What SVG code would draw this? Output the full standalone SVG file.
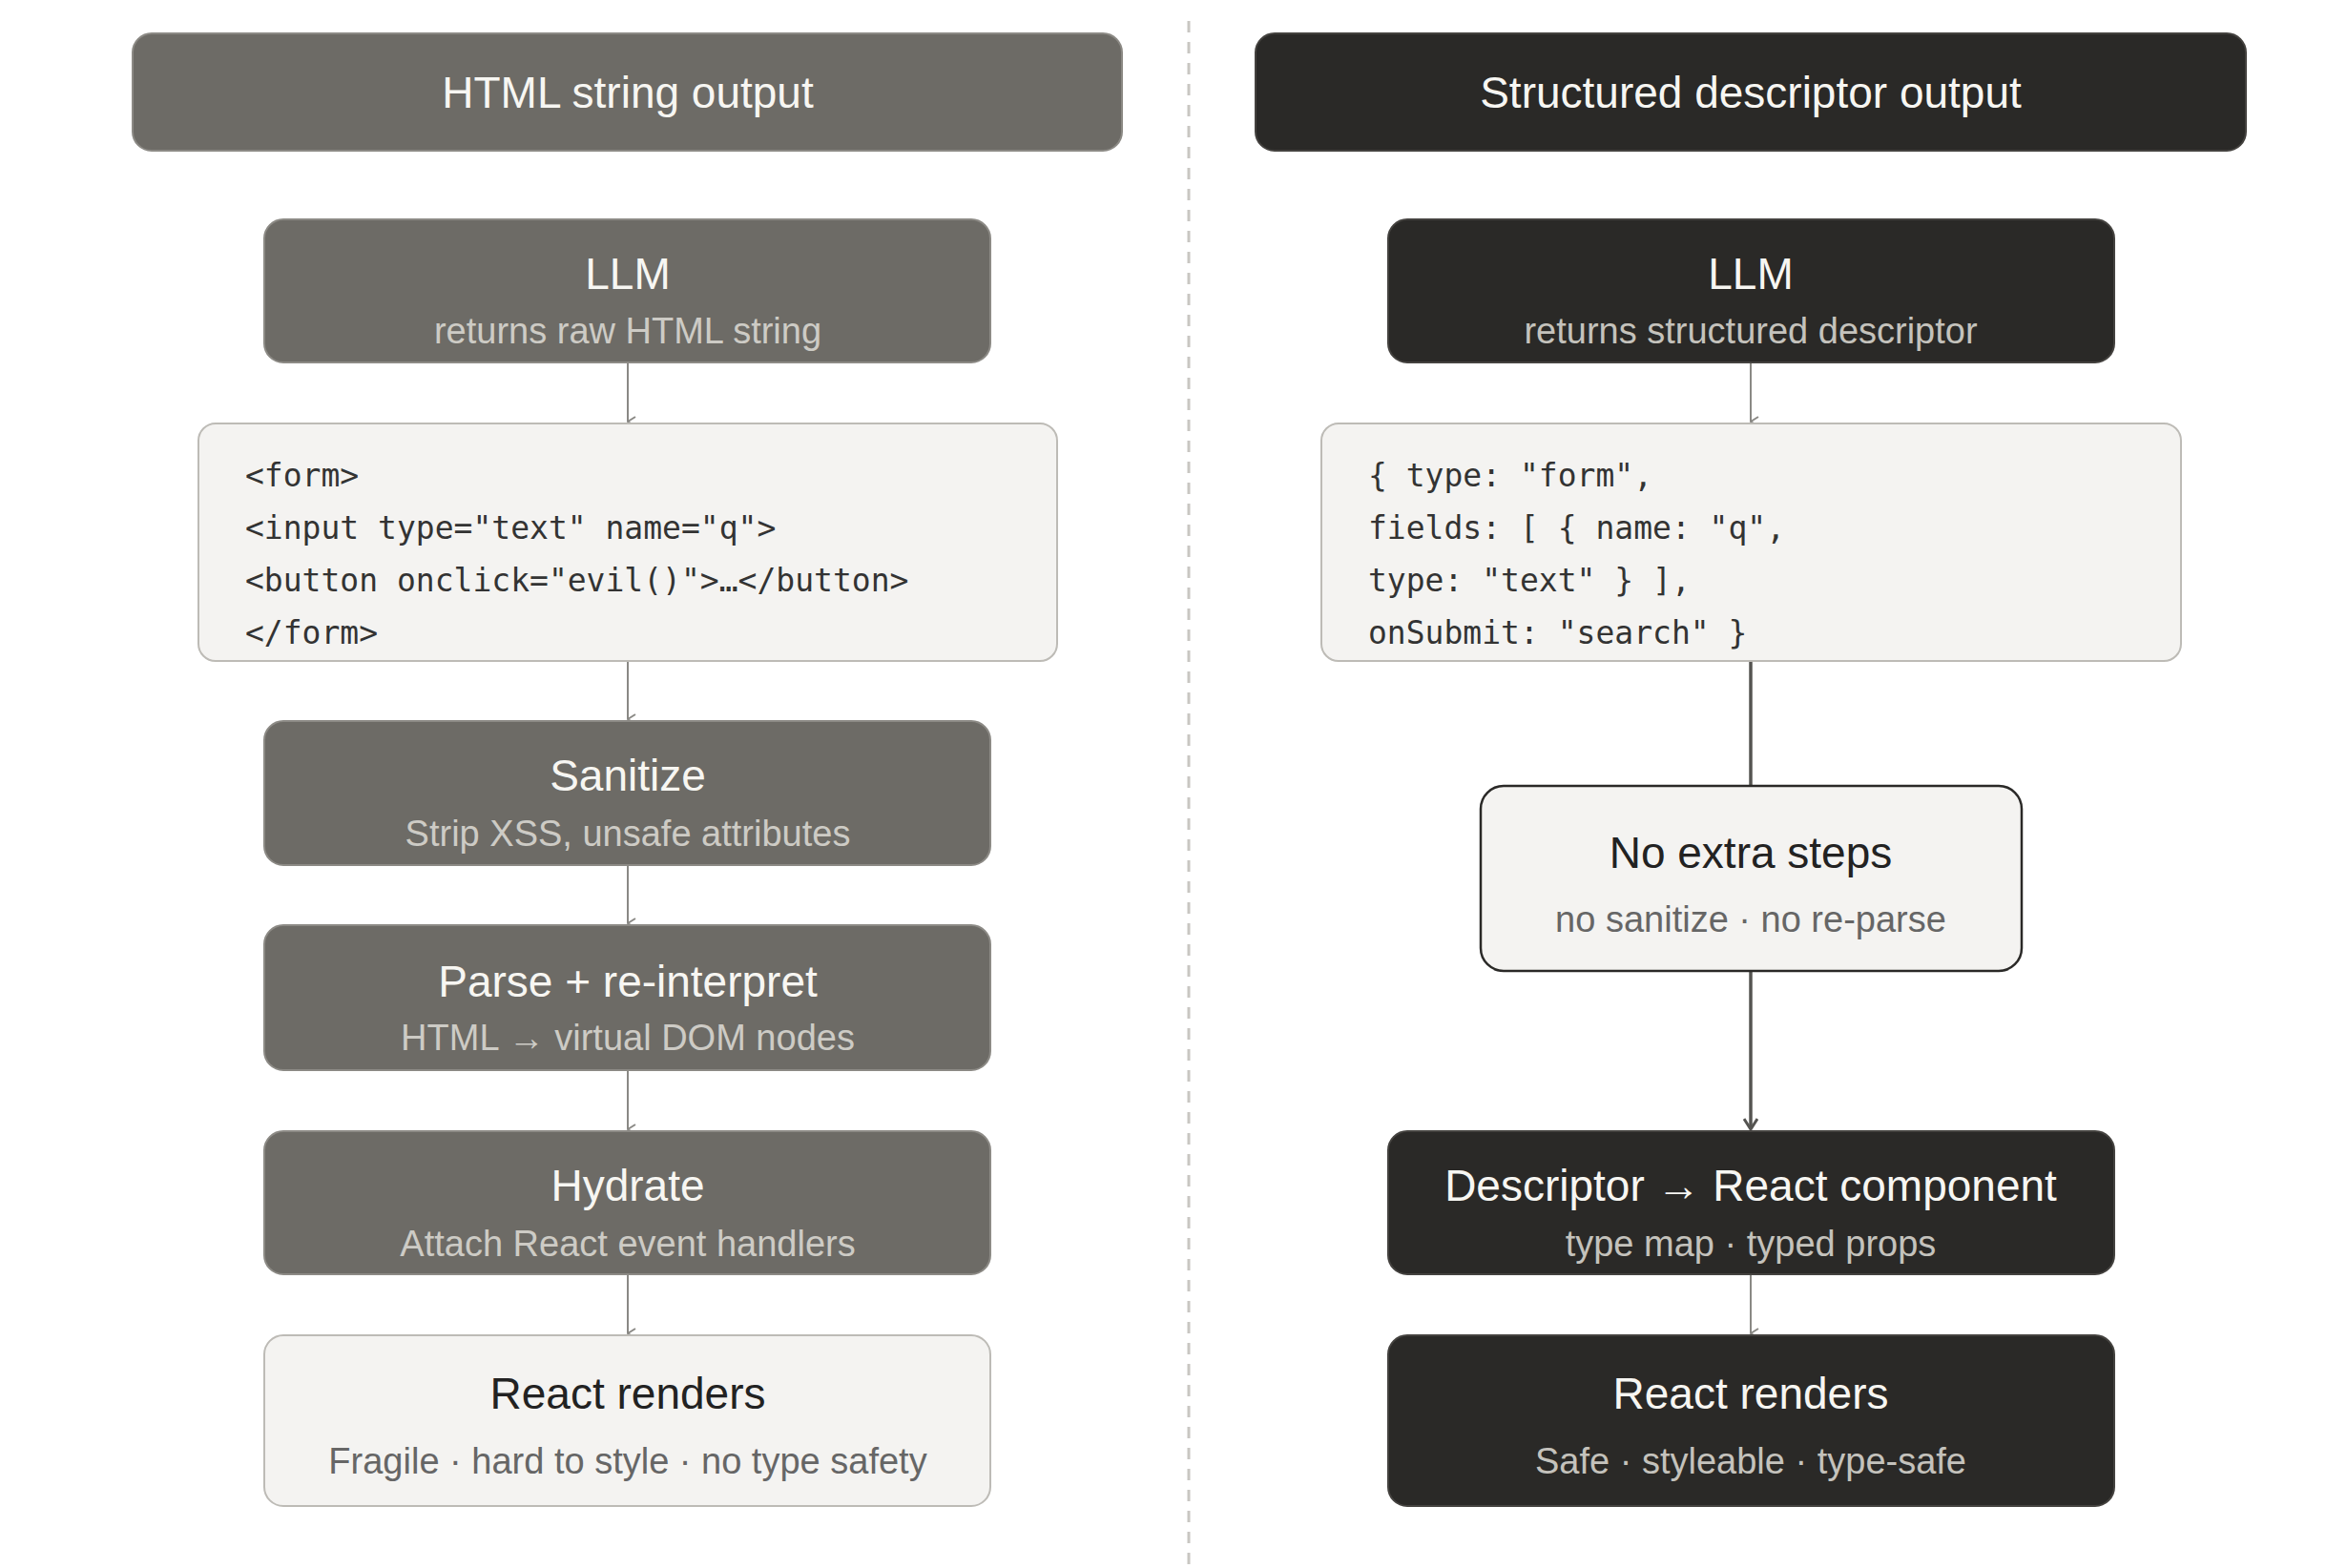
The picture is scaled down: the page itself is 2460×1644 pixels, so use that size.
<svg xmlns="http://www.w3.org/2000/svg" width="2460" height="1644" viewBox="0 0 2460 1644">
<defs>
<marker id="ag" viewBox="0 0 12 12" refX="6" refY="11" markerWidth="12" markerHeight="12" markerUnits="userSpaceOnUse" orient="auto-start-reverse"><path d="M1 3 L6 11 L11 3" fill="none" stroke="#8a8985" stroke-width="2"/></marker>
<marker id="ad" viewBox="0 0 16 16" refX="8" refY="15" markerWidth="16" markerHeight="16" markerUnits="userSpaceOnUse"><path d="M1 4 L8 15 L15 4" fill="none" stroke="#555451" stroke-width="3"/></marker>
</defs>
<style>
text{font-family:"Liberation Sans",Arial,sans-serif;text-anchor:middle}
.g{fill:#6d6b66;stroke:#8c8a85;stroke-width:2}
.d{fill:#2a2927;stroke:#44423f;stroke-width:2}
.l{fill:#f4f3f1;stroke:#bdbbb6;stroke-width:2}
.t{font-size:46px;fill:#f7f6f2}
.tk{font-size:46px;fill:#222}
.s{font-size:38px;fill:#cdcbc5}
.sk{font-size:38px;fill:#666}
.c{font-family:"DejaVu Sans Mono","Liberation Mono",monospace;font-size:33px;fill:#333;text-anchor:start}
.cg{stroke:#8a8985;stroke-width:2;fill:none}
.cd{stroke:#555451;stroke-width:3.5;fill:none}
</style>
<line x1="1246" y1="22" x2="1246" y2="1640" stroke="#c8c6c2" stroke-width="3" stroke-dasharray="12 10"/>
<g id="connectors">
<line class="cg" x1="658" y1="380" x2="658" y2="442" marker-end="url(#ag)"/>
<line class="cg" x1="658" y1="693" x2="658" y2="754" marker-end="url(#ag)"/>
<line class="cg" x1="658" y1="907" x2="658" y2="968" marker-end="url(#ag)"/>
<line class="cg" x1="658" y1="1122" x2="658" y2="1184" marker-end="url(#ag)"/>
<line class="cg" x1="658" y1="1336" x2="658" y2="1398" marker-end="url(#ag)"/>
<line class="cg" x1="1835" y1="380" x2="1835" y2="442" marker-end="url(#ag)"/>
<line class="cd" x1="1835" y1="693" x2="1835" y2="824"/>
<line class="cd" x1="1835" y1="1018" x2="1835" y2="1184" marker-end="url(#ad)"/>
<line class="cg" x1="1835" y1="1336" x2="1835" y2="1398" marker-end="url(#ag)"/>
</g>
<g id="header-left"><rect class="g" x="139" y="35" width="1037" height="123" rx="20"/><text class="t" x="658" y="113">HTML string output</text></g>
<g id="header-right"><rect class="d" x="1316" y="35" width="1038" height="123" rx="20"/><text class="t" x="1835" y="113">Structured descriptor output</text></g>
<g id="llm-left"><rect class="g" x="277" y="230" width="761" height="150" rx="20"/><text class="t" x="658" y="303">LLM</text><text class="s" x="658" y="360">returns raw HTML string</text></g>
<g id="code-left"><rect class="l" x="208" y="444" width="900" height="249" rx="18"/>
<text class="c" x="257" y="510">&lt;form&gt;</text>
<text class="c" x="257" y="565">&lt;input type="text" name="q"&gt;</text>
<text class="c" x="257" y="620">&lt;button onclick="evil()"&gt;…&lt;/button&gt;</text>
<text class="c" x="257" y="675">&lt;/form&gt;</text></g>
<g id="sanitize"><rect class="g" x="277" y="756" width="761" height="151" rx="20"/><text class="t" x="658" y="829">Sanitize</text><text class="s" x="658" y="887">Strip XSS, unsafe attributes</text></g>
<g id="parse"><rect class="g" x="277" y="970" width="761" height="152" rx="20"/><text class="t" x="658" y="1045">Parse + re-interpret</text><text class="s" x="658" y="1101">HTML → virtual DOM nodes</text></g>
<g id="hydrate"><rect class="g" x="277" y="1186" width="761" height="150" rx="20"/><text class="t" x="658" y="1259">Hydrate</text><text class="s" x="658" y="1317">Attach React event handlers</text></g>
<g id="render-left"><rect class="l" x="277" y="1400" width="761" height="179" rx="20"/><text class="tk" x="658" y="1477">React renders</text><text class="sk" x="658" y="1545">Fragile · hard to style · no type safety</text></g>
<g id="llm-right"><rect class="d" x="1455" y="230" width="761" height="150" rx="20"/><text class="t" x="1835" y="303">LLM</text><text class="s" x="1835" y="360" style="fill:#c4c2bc">returns structured descriptor</text></g>
<g id="code-right"><rect class="l" x="1385" y="444" width="901" height="249" rx="18"/>
<text class="c" x="1434" y="510">{ type: "form",</text>
<text class="c" x="1434" y="565">fields: [ { name: "q",</text>
<text class="c" x="1434" y="620">type: "text" } ],</text>
<text class="c" x="1434" y="675">onSubmit: "search" }</text></g>
<g id="no-extra"><rect x="1552" y="824" width="567" height="194" rx="24" fill="#f4f3f1" stroke="#2a2927" stroke-width="2.5"/><text class="tk" x="1835" y="910">No extra steps</text><text class="sk" x="1835" y="977">no sanitize · no re-parse</text></g>
<g id="descriptor"><rect class="d" x="1455" y="1186" width="761" height="150" rx="20"/><text class="t" x="1835" y="1259">Descriptor → React component</text><text class="s" x="1835" y="1317" style="fill:#c4c2bc">type map · typed props</text></g>
<g id="render-right"><rect class="d" x="1455" y="1400" width="761" height="179" rx="20"/><text class="t" x="1835" y="1477">React renders</text><text class="s" x="1835" y="1545" style="fill:#c4c2bc">Safe · styleable · type-safe</text></g>
</svg>
